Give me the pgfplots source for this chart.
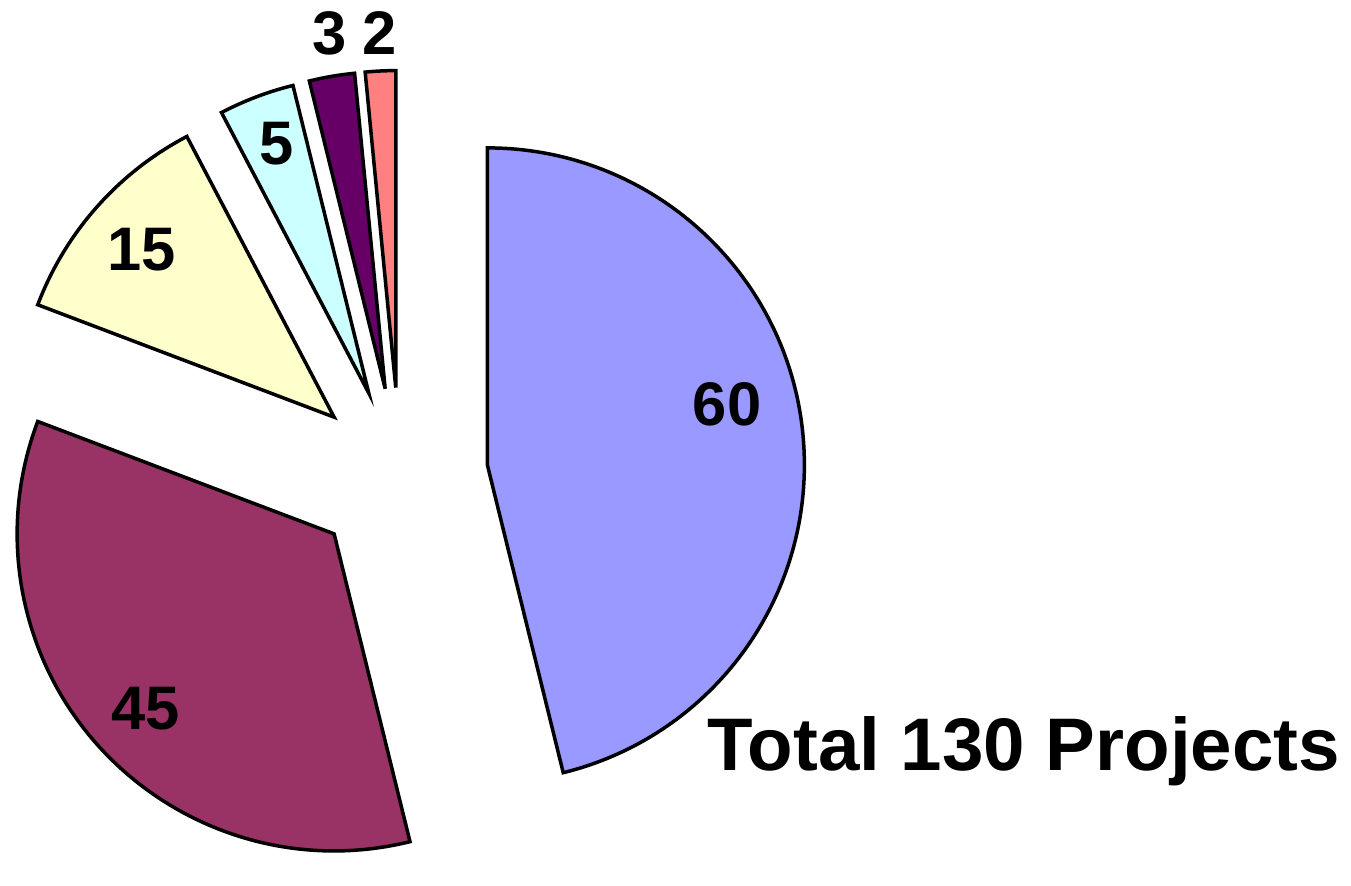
\documentclass[border=0pt]{standalone}
\usepackage{pgfplots}
\pgfplotsset{compat=1.18}
\usepackage{fontspec}
\setmainfont{Liberation Sans}
\definecolor{cA}{HTML}{9999FF}
\definecolor{cB}{HTML}{993366}
\definecolor{cC}{HTML}{FFFFCC}
\definecolor{cD}{HTML}{CCFFFF}
\definecolor{cE}{HTML}{660066}
\definecolor{cF}{HTML}{FF8080}
% values: 60, 45, 15, 5, 3, 2 (total 130); angles = 90 - 360*cumulative/130
% #1,#2 apex (exploded by 88 along bisector), #3 start angle, #4 end angle, #5 colour
\newcommand{\slice}[5]{%
  \filldraw[fill=#5, draw=black, line width=0.35mm, line join=miter]
    (axis cs:#1,#2) -- ++(#3:31.7mm)
    arc[start angle=#3, end angle=#4, radius=31.7mm] -- cycle;}
\begin{document}
\begin{tikzpicture}
\begin{axis}[
  width=13.51cm, height=8.54cm, scale only axis,
  xmin=0, xmax=1351, ymin=-854, ymax=0,
  hide axis, clip=false]
\addplot[draw=none, mark=none] coordinates {(0,0) (1351,-854)};
\slice{487.36}{-464.39}{90}{-76.154}{cA}
\slice{334.13}{-533.35}{-76.154}{-200.769}{cB}
\slice{334.13}{-416.65}{-200.769}{-242.308}{cC}
\slice{368.80}{-392.72}{-242.308}{-256.154}{cD}
\slice{385.18}{-388.26}{-256.154}{-264.462}{cE}
\slice{395.75}{-387.10}{-264.462}{-270}{cF}
\begin{scope}[font=\fontsize{17.5pt}{20pt}\selectfont\bfseries]
\node at (axis cs:727,-404) {60};
\node at (axis cs:146,-708) {45};
\node at (axis cs:142,-249) {15};
\node at (axis cs:277,-143) {5};
\node at (axis cs:330,-33) {3};
\node at (axis cs:380,-33) {2};
\end{scope}
\node[anchor=base west, inner sep=0pt, font=\fontsize{21.2pt}{24pt}\selectfont\bfseries]
  at (axis cs:707,-770) {Total 130 Projects};
\end{axis}
\end{tikzpicture}
\end{document}
